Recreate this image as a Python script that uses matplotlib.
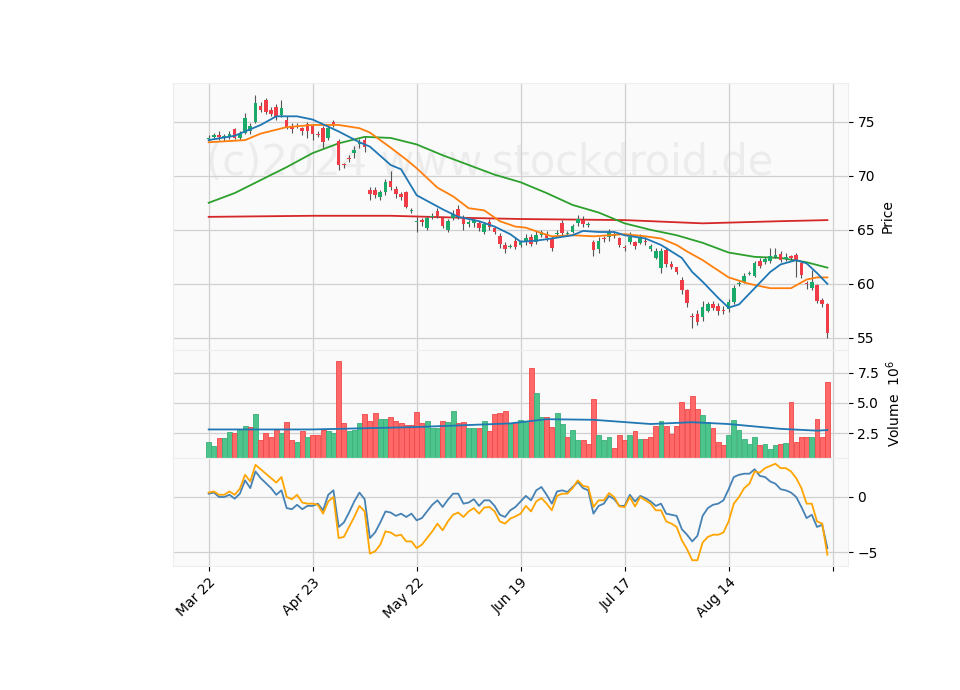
import numpy as np
import matplotlib.pyplot as plt

# daily OHLC (index 0 = Mar 22)
opens = [73.4, 73.6, 73.8, 73.6, 73.6, 74.3, 73.5, 74.0, 74.1, 75.0,
         76.5, 77.0, 76.1, 76.4, 75.6, 75.2, 74.6, 74.55, 74.4, 74.8,
         74.6, 73.9, 74.4, 73.5, 75.0, 73.2, 71.1, 71.65, 72.1, 72.9,
         73.3, 68.7, 68.7, 68.0, 68.5, 69.5, 68.8, 68.3, 68.5, 66.75,
         65.75, 65.9, 65.2, 66.15, 66.7, 66.1, 65.0, 66.1, 66.9, 66.2,
         65.5, 65.6, 65.6, 64.8, 65.7, 65.2, 64.4, 63.6, 63.4, 64.0,
         63.6, 63.9, 64.3, 63.9, 64.5, 64.6, 64.2, 64.65, 65.6, 64.65,
         64.8, 65.6, 65.9, 65.45, 63.9, 63.2, 64.25, 64.3, 64.45, 64.2,
         63.45, 63.9, 63.9, 63.8, 64.0, 63.2, 62.4, 61.5, 63.1, 61.8,
         61.6, 60.4, 59.4, 57.05, 57.2, 56.9, 57.5, 58.1, 58.0, 57.6,
         57.7, 58.3, 59.95, 60.2, 60.95, 60.7, 62.1, 62.0, 62.1, 62.5,
         62.8, 62.3, 62.6, 62.7, 61.9, 60.05, 59.6, 59.9, 58.5, 58.1]
closes = [73.5, 73.8, 73.6, 73.7, 73.9, 73.5, 73.9, 75.3, 74.6, 76.7,
          76.1, 75.9, 75.7, 75.4, 76.3, 74.5, 74.3, 74.65, 74.1, 74.1,
          73.9, 73.8, 73.1, 74.4, 74.8, 71.0, 71.0, 71.55, 72.4, 73.1,
          72.7, 68.3, 68.2, 68.5, 69.4, 69.0, 68.3, 68.0, 67.1, 66.85,
          65.85, 65.7, 66.1, 66.25, 66.3, 65.4, 65.8, 66.5, 66.3, 65.5,
          65.7, 65.9, 65.2, 65.5, 65.3, 64.8, 63.7, 63.2, 63.5, 63.4,
          63.9, 64.2, 63.7, 64.5, 64.8, 64.2, 63.3, 64.75, 64.7, 64.75,
          65.4, 66.0, 65.5, 65.55, 63.1, 64.0, 64.15, 64.8, 64.55, 63.6,
          63.35, 64.3, 63.5, 64.2, 63.9, 63.5, 63.0, 63.0, 61.8, 61.6,
          61.1, 59.4, 58.2, 56.95, 56.5, 57.9, 58.1, 57.8, 57.5, 57.5,
          58.3, 59.6, 60.05, 60.7, 61.05, 61.9, 61.7, 62.3, 62.6, 62.7,
          62.2, 62.5, 62.4, 62.1, 60.8, 59.95, 60.2, 58.4, 58.1, 55.5]
highs = [73.8, 74.0, 74.1, 73.9, 74.1, 74.4, 74.1, 75.8, 74.9, 77.5,
         76.8, 77.2, 76.4, 76.6, 77.0, 75.5, 74.9, 74.9, 74.5, 75.0,
         74.8, 74.1, 74.6, 74.6, 75.2, 73.4, 71.2, 71.9, 72.8, 73.4,
         73.6, 69.0, 69.0, 68.7, 69.7, 70.4, 69.1, 68.5, 68.6, 67.0,
         66.2, 66.1, 66.3, 66.6, 67.0, 66.2, 66.0, 66.8, 67.3, 66.4,
         65.9, 66.0, 65.8, 65.7, 66.0, 65.4, 64.7, 63.9, 63.7, 64.2,
         64.1, 64.6, 64.6, 64.9, 65.0, 64.9, 64.4, 65.0, 65.9, 64.9,
         65.5, 66.4, 66.3, 65.7, 64.1, 64.3, 64.4, 65.1, 64.8, 64.3,
         63.6, 64.8, 64.0, 64.6, 64.3, 63.7, 63.3, 63.3, 63.4, 62.1,
         61.3, 60.6, 59.5, 57.3, 57.6, 58.4, 58.3, 58.4, 58.2, 58.0,
         58.6, 59.9, 60.3, 61.0, 61.2, 62.1, 62.4, 62.5, 63.3, 63.3,
         63.0, 62.9, 62.7, 62.9, 62.0, 60.3, 61.3, 60.0, 58.7, 58.2]
lows = [73.2, 73.5, 73.3, 73.2, 73.4, 73.4, 73.3, 73.9, 73.9, 74.9,
        75.9, 75.7, 75.5, 75.2, 75.4, 74.3, 74.0, 74.4, 73.8, 73.5,
        73.3, 73.6, 72.6, 73.3, 74.5, 70.5, 70.7, 71.3, 71.6, 72.6,
        72.2, 67.8, 67.9, 67.8, 68.2, 68.7, 67.9, 67.8, 67.0, 66.6,
        64.8, 65.4, 65.0, 66.0, 66.1, 65.2, 64.8, 65.9, 66.0, 65.0,
        65.3, 65.3, 64.9, 64.6, 65.0, 64.6, 63.3, 62.9, 63.3, 63.2,
        63.4, 63.6, 63.5, 63.7, 64.3, 64.0, 63.0, 64.4, 64.4, 64.5,
        64.7, 65.4, 65.3, 65.3, 62.6, 62.9, 63.9, 64.0, 64.2, 63.4,
        63.0, 63.7, 63.2, 63.7, 63.6, 63.0, 62.3, 61.0, 61.6, 61.4,
        60.9, 59.1, 57.9, 55.9, 56.2, 56.6, 57.4, 57.6, 57.1, 57.2,
        57.4, 58.1, 59.8, 60.1, 60.8, 60.6, 61.5, 61.8, 61.9, 62.4,
        62.0, 62.1, 62.2, 60.6, 60.5, 59.5, 59.4, 58.2, 57.9, 55.0]

# volume in millions, and whether the volume bar is green
volume = [1.75, 1.4, 2.1, 2.1, 2.6, 2.5, 2.75, 3.1, 3.0, 4.1,
          1.9, 2.5, 2.2, 2.75, 2.5, 3.4, 1.9, 1.8, 2.7, 2.2,
          2.35, 2.3, 2.75, 2.7, 2.5, 8.5, 3.3, 2.7, 2.75, 3.3,
          4.1, 3.5, 4.2, 3.7, 3.7, 3.8, 3.5, 3.3, 3.2, 3.2,
          4.25, 3.3, 3.5, 2.9, 2.9, 3.5, 3.4, 4.3, 3.3, 3.4,
          2.9, 2.9, 2.9, 3.5, 2.7, 4.1, 4.2, 4.3, 3.3, 3.4,
          3.6, 3.5, 7.9, 5.8, 3.8, 3.8, 3.0, 4.2, 3.25, 2.2,
          2.75, 1.9, 1.9, 1.6, 5.3, 2.3, 1.9, 2.2, 1.3, 2.3,
          1.9, 2.3, 2.7, 2.0, 2.0, 2.2, 3.1, 3.5, 3.1, 2.4,
          3.1, 5.1, 4.5, 5.6, 4.5, 4.0, 3.4, 2.9, 1.8, 1.5,
          2.3, 3.6, 2.75, 2.0, 1.6, 2.2, 1.5, 1.6, 1.2, 1.5,
          1.6, 1.7, 5.1, 1.8, 2.2, 2.2, 2.2, 3.7, 2.2, 6.7]
vol_up = [1, 1, 0, 1, 1, 0, 1, 1, 0, 1,
          0, 0, 0, 0, 1, 0, 0, 1, 0, 1,
          0, 0, 0, 1, 1, 0, 0, 1, 1, 1,
          0, 0, 0, 1, 1, 0, 0, 0, 0, 0,
          0, 0, 1, 1, 1, 0, 1, 1, 0, 0,
          1, 1, 0, 1, 0, 0, 0, 0, 1, 0,
          1, 1, 0, 1, 1, 0, 0, 1, 1, 0,
          1, 1, 0, 0, 0, 1, 1, 1, 0, 0,
          0, 1, 0, 1, 0, 0, 0, 1, 0, 0,
          0, 0, 0, 0, 0, 1, 1, 0, 0, 0,
          1, 1, 1, 1, 1, 1, 0, 1, 1, 1,
          0, 1, 0, 0, 0, 0, 1, 0, 0, 0]

# moving averages (index, value)
ma_blue_x = [0, 5, 10, 13, 17, 20, 25, 29, 31, 35, 37, 40, 45, 48, 52, 55, 58, 60, 63, 66,
             70, 72, 75, 78, 80, 84, 87, 90, 91, 93, 95, 98, 100, 102, 105, 108, 110, 113,
             115, 117, 119]
ma_blue = [73.3, 73.7, 74.7, 75.5, 75.5, 75.2, 74.1, 73.1, 72.7, 71.0, 70.6, 68.2, 66.9, 66.2,
           65.8, 65.3, 64.6, 63.9, 64.0, 64.2, 64.5, 64.9, 64.8, 64.8, 64.5, 64.2, 63.6, 62.7,
           62.4, 61.1, 60.2, 58.7, 57.8, 58.1, 59.6, 61.1, 61.8, 62.2, 61.9, 61.0, 60.0]
ma_orange_x = [0, 7, 10, 15, 20, 25, 29, 31, 35, 38, 40, 44, 47, 50, 53, 56, 59, 61, 64, 66,
               70, 74, 77, 80, 84, 87, 90, 92, 95, 100, 104, 108, 112, 115, 117, 119]
ma_orange = [73.1, 73.3, 73.9, 74.5, 74.7, 74.7, 74.4, 74.0, 72.6, 71.5, 70.7, 68.9, 68.1,
             67.0, 66.8, 65.8, 65.3, 65.2, 64.7, 64.4, 64.5, 64.4, 64.5, 64.6, 64.4, 64.2,
             63.6, 63.0, 62.2, 60.6, 60.0, 59.6, 59.6, 60.4, 60.6, 60.6]
ma_green_x = [0, 5, 10, 15, 20, 25, 30, 35, 40, 45, 50, 55, 60, 65, 70, 75, 80, 85, 90, 95,
              100, 105, 110, 115, 119]
ma_green = [67.5, 68.4, 69.6, 70.8, 72.1, 73.0, 73.6, 73.5, 72.9, 71.9, 71.0, 70.1, 69.4,
            68.4, 67.3, 66.6, 65.6, 65.0, 64.5, 63.8, 62.9, 62.5, 62.4, 62.0, 61.5]
ma_red_x = [0, 20, 35, 50, 60, 80, 95, 110, 119]
ma_red = [66.2, 66.3, 66.3, 66.1, 66.0, 65.9, 65.6, 65.8, 65.9]

vol_ma_x = [0, 20, 40, 58, 65, 74, 85, 93, 100, 110, 117, 119]
vol_ma = [2.8, 2.8, 3.0, 3.3, 3.65, 3.6, 3.25, 3.4, 3.25, 2.85, 2.7, 2.75]

ind_blue = [0.3, 0.4, 0, 0, 0.2, -0.15, 0.3, 1.5, 0.8, 2.3,
            1.7, 1.25, 0.8, 0.2, 0.6, -1.0, -1.1, -0.7, -1.1, -0.8,
            -0.8, -0.6, -1.2, 0.2, 0.6, -2.7, -2.3, -1.4, -0.4, 0.4,
            -0.2, -3.7, -3.2, -2.3, -1.3, -1.4, -1.7, -1.5, -1.8, -1.5,
            -2.1, -1.9, -1.3, -0.7, -0.3, -0.9, -0.25, 0.3, 0.3, -0.6,
            -0.5, -0.2, -0.8, -0.3, -0.3, -0.8, -1.6, -1.8, -1.2, -0.9,
            -0.4, 0.1, -0.3, 0.6, 0.9, 0.2, -0.6, 0.5, 0.6, 0.45,
            0.9, 1.35, 0.8, 0.6, -1.5, -0.8, -0.6, 0.1, -0.2, -0.8,
            -0.8, 0.2, -0.4, 0.1, -0.1, -0.4, -0.8, -0.6, -1.5, -1.6,
            -1.7, -2.9, -3.4, -4.0, -3.5, -1.7, -1.0, -0.7, -0.6, -0.3,
            0.7, 1.8, 2.0, 2.1, 2.1, 2.5, 1.9, 1.8, 1.4, 1.2,
            0.7, 0.6, 0.4, 0, -0.9, -1.9, -1.6, -2.7, -2.5, -4.6]
ind_orange = [0.4, 0.5, 0.2, 0.2, 0.5, 0.2, 0.75, 2.0, 1.4, 2.9,
              2.5, 2.1, 1.7, 1.3, 1.8, 0, -0.2, 0.2, -0.5, -0.6,
              -0.6, -0.7, -1.5, -0.4, 0, -3.7, -3.6, -2.7, -1.8, -0.8,
              -1.3, -5.1, -4.9, -4.3, -3.1, -3.2, -3.5, -3.4, -4.0, -4.0,
              -4.6, -4.3, -3.7, -3.1, -2.4, -3.0, -2.2, -1.6, -1.4, -1.8,
              -1.3, -1.0, -1.5, -0.95, -0.9, -1.3, -2.2, -2.4, -1.95, -1.75,
              -1.5, -0.8, -1.3, -0.4, -0.1, -0.6, -1.2, 0.1, 0.3, 0.3,
              0.8, 1.5, 1.0, 0.9, -0.9, -0.3, -0.3, 0.35, 0, -0.85,
              -0.9, 0, -0.85, 0, -0.3, -0.6, -1.2, -1.2, -2.2, -2.4,
              -2.7, -3.9, -4.7, -5.7, -5.7, -4.1, -3.6, -3.4, -3.4, -3.2,
              -2.2, -0.6, 0, 0.8, 1.2, 2.3, 2.2, 2.6, 2.8, 3.0,
              2.6, 2.6, 2.3, 1.7, 0.8, -0.6, -0.6, -2.2, -2.4, -5.2]

tick_pos = [0, 20, 40, 60, 80, 100, 120]
tick_labels = ['Mar 22', 'Apr 23', 'May 22', 'Jun 19', 'Jul 17', 'Aug 14', '']

UP, DOWN = '#1aab6b', '#f03c47'
VUP, VDOWN = '#4cc48c', '#ff6868'
BG = '#fafafa'

fig = plt.figure(figsize=(9.6, 6.9), dpi=100)
ax1 = fig.add_axes([0.180, 0.493, 0.703, 0.387])
ax2 = fig.add_axes([0.180, 0.336, 0.703, 0.157], sharex=ax1)
ax3 = fig.add_axes([0.180, 0.180, 0.703, 0.156], sharex=ax1)

x = np.arange(len(closes))
for ax in (ax1, ax2, ax3):
    ax.set_facecolor(BG)
    ax.grid(True, color='#d0d0d0', linewidth=0.9)
    ax.set_axisbelow(True)
    ax.yaxis.tick_right()
    ax.yaxis.set_label_position('right')
    for s in ax.spines.values():
        s.set_color('#eeeeee')

# candles
o = np.array(opens); c = np.array(closes)
up = c >= o
ax1.vlines(x, lows, highs, color='#555555', linewidth=0.8, zorder=2)
ax1.bar(x, np.maximum(np.abs(c - o), 0.08), bottom=np.minimum(o, c), width=0.7,
        color=np.where(up, UP, DOWN), zorder=3)
ax1.plot(ma_red_x, ma_red, color='#d62728', lw=1.3, zorder=1)
ax1.plot(ma_green_x, ma_green, color='#2ca02c', lw=1.3, zorder=1)
ax1.plot(ma_orange_x, ma_orange, color='#ff7f0e', lw=1.3, zorder=4)
ax1.plot(ma_blue_x, ma_blue, color='#1f77b4', lw=1.3, zorder=4)
ax1.set_ylim(53.9, 78.6)
ax1.set_yticks([55, 60, 65, 70, 75])
ax1.set_ylabel('Price')
ax1.text(0.47, 0.7, '(c)2024 www.stockdroid.de', transform=ax1.transAxes,
         fontsize=30, color='#e4e4e4', alpha=0.6, ha='center', va='center', zorder=0)

vcol = [VUP if u else VDOWN for u in vol_up]
ecol = ['#3ab07a' if u else '#f04848' for u in vol_up]
ax2.bar(x, volume, width=0.95, color=vcol, edgecolor=ecol, linewidth=0.6, zorder=2)
ax2.plot(vol_ma_x, vol_ma, color='#1f77b4', lw=1.3, zorder=3)
ax2.set_ylim(0.42, 9.4)
ax2.set_yticks([2.5, 5.0, 7.5])
ax2.set_ylabel('Volume  $10^6$')

ax3.plot(x, ind_blue, color='#4682b4', lw=1.3)
ax3.plot(x, ind_orange, color='#ffa500', lw=1.3)
ax3.set_ylim(-6.2, 3.5)
ax3.set_yticks([-5, 0])

ax1.set_xlim(-6.9, 122.9)
ax3.set_xticks(tick_pos)
ax3.set_xticklabels(tick_labels, rotation=45, ha='right', rotation_mode='anchor')
plt.setp(ax1.get_xticklabels(), visible=False)
plt.setp(ax2.get_xticklabels(), visible=False)
ax1.tick_params(axis='x', length=0)
ax2.tick_params(axis='x', length=0)

fig.savefig('out.png', dpi=100, facecolor='white')
